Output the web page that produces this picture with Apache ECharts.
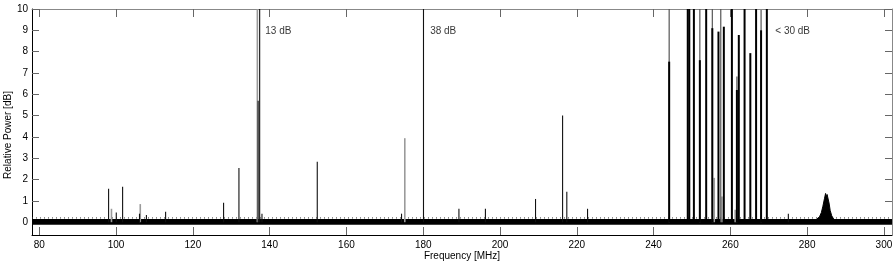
<!DOCTYPE html>
<html><head><meta charset="utf-8">
<script src="https://cdn.jsdelivr.net/npm/echarts@6/dist/echarts.min.js"></script>
<style>html,body{margin:0;padding:0;background:#fff}#c{width:896px;height:263px}</style>
</head><body><div id="c"></div>
<script>
// ---- data ----
const xTicks = [80,100,120,140,160,180,200,220,240,260,280,300];
const yTicks = [0,1,2,3,4,5,6,7,8,9,10];
const X_MIN = 78.1, X_MAX = 302.1, Y_MIN = -0.6, Y_MAX = 10;

// thin black spikes (MHz, dB)
const blackFreq = [98.05,100.05,101.7,106.1,107.9,112.9,128.0,132.0,137.0,137.4,138.0,152.4,174.35,180.07,189.3,196.2,209.25,216.3,217.4,222.8,275.1];
const blackVal  = [1.57,0.46,1.66,0.40,0.34,0.49,0.91,2.54,5.7,13,0.40,2.83,0.40,38,0.63,0.63,1.09,5.0,1.43,0.63,0.40];

// lighter grey spikes
const greyFreq = [98.8,106.3,136.8,175.2,255.8,257.8,261.25];
const greyVal  = [0.63,0.85,13,3.94,2.08,1.2,0.58];

// upper parts of the strong cluster (dark grey, < 30 dB)
const clusterUpperFreq = [244.06,252.05,255.3,257.5,261.7,268.0];
const clusterUpperVal  = [30,30,30,30,6.83,9.95];

// strong cluster, heavy black lines
const clusterFreq = [244.06,248.9,249.3,250.5,252.05,253.7,255.3,256.9,258.3,260.4,261.7,262.2,263.7,265.2,266.7,268.0,269.5];
const clusterVal  = [7.53,30,30,30,7.6,30,9.1,8.94,9.17,30,6.2,8.78,30,7.93,30,9.0,30];

// broad hump near 285 MHz
const humpFreq = [282.5,283.2,283.7,284.1,284.5,284.8,285.0,285.2,285.4,285.7,286.0,286.4,286.9];
const humpVal  = [0.15,0.25,0.45,0.75,1.1,1.35,1.2,1.3,1.25,0.9,0.55,0.3,0.15];

// noise floor band (dB)
const noiseBand = [-0.12, 0.15];
const noiseSpeckle = [0.2];

// annotations
const annotFreq = [138.85, 181.8, 271.7];
const annotVal  = [8.97, 8.97, 8.97];
const annotText = ['13 dB', '38 dB', '< 30 dB'];

// ---- chart ----
const FONT = 'Liberation Sans';
const chart = echarts.init(document.getElementById('c'), null, {renderer: 'canvas'});

function spikeSeries(freqs, vals, color, width, z) {
  return {
    type: 'custom', xAxisIndex: 0, yAxisIndex: 0, z: z, silent: true, animation: false,
    data: freqs.map((f, i) => [f, vals[i]]),
    renderItem: function (params, api) {
      const f = api.value(0);
      const v = Math.min(api.value(1), Y_MAX);
      const p0 = api.coord([f, 0]);
      const p1 = api.coord([f, v]);
      return {type: 'line', shape: {x1: p0[0], y1: p0[1], x2: p1[0], y2: p1[1]},
        style: {stroke: color, lineWidth: width}};
    }
  };
}

function xAx(pos, show) {
  return {
    type: 'value', position: pos, min: X_MIN, max: X_MAX,
    axisLine: {show: true, onZero: false, lineStyle: {color: pos === 'bottom' ? '#000' : '#888', width: 1}},
    axisTick: {show: true, inside: true, length: 8, customValues: xTicks, lineStyle: {color: '#666'}},
    axisLabel: {show: show, customValues: xTicks, color: '#000', fontSize: 10, fontFamily: FONT, margin: 5},
    splitLine: {show: false},
    name: show ? 'Frequency [MHz]' : '', nameLocation: 'middle', nameGap: 16, nameMoveOverlap: false,
    nameTextStyle: {color: '#000', fontSize: 10, fontFamily: FONT}
  };
}
function yAx(pos, show) {
  return {
    type: 'value', position: pos, min: Y_MIN, max: Y_MAX,
    axisLine: {show: true, onZero: false, lineStyle: {color: pos === 'left' ? '#000' : '#888', width: 1}},
    axisTick: {show: true, inside: true, length: 7, customValues: yTicks, lineStyle: {color: '#666'}},
    axisLabel: {show: show, customValues: yTicks, color: '#000', fontSize: 10, fontFamily: FONT, margin: 4},
    splitLine: {show: false},
    name: show ? 'Relative Power [dB]' : '', nameLocation: 'middle', nameGap: 19, nameMoveOverlap: false,
    nameTextStyle: {color: '#000', fontSize: 10, fontFamily: FONT, padding: [0, 26, 0, 0]}
  };
}

chart.setOption({
  backgroundColor: '#fff',
  animation: false,
  grid: {left: 32, right: 4, top: 9, bottom: 28, containLabel: false, outerBoundsMode: 'none'},
  xAxis: [xAx('bottom', true), xAx('top', false)],
  yAxis: [yAx('left', true), yAx('right', false)],
  series: [
    {
      type: 'line', xAxisIndex: 0, yAxisIndex: 0, z: 1, silent: true,
      data: [[X_MIN, noiseSpeckle[0]], [X_MAX, noiseSpeckle[0]]],
      symbol: 'none', lineStyle: {color: '#333', width: 1, type: [1, 3]},
      markArea: {silent: true, itemStyle: {color: '#000', opacity: 1},
        data: [[{coord: [X_MIN, noiseBand[0]]}, {coord: [X_MAX, noiseBand[1]]}]]}
    },
    {
      type: 'line', xAxisIndex: 0, yAxisIndex: 0, z: 3, silent: true, symbol: 'none',
      data: humpFreq.map((f, i) => [f, humpVal[i]]),
      lineStyle: {color: '#000', width: 1}, areaStyle: {color: '#000', opacity: 1, origin: 0}
    },
    spikeSeries(greyFreq, greyVal, '#9a9a9a', 1.6, 2),
    spikeSeries(clusterUpperFreq, clusterUpperVal, '#555', 1.2, 2),
    spikeSeries(blackFreq, blackVal, '#111', 1.1, 4),
    spikeSeries(clusterFreq, clusterVal, '#000', 2, 5),
    {
      type: 'scatter', xAxisIndex: 0, yAxisIndex: 0, z: 6, silent: true,
      symbolSize: 0,
      data: annotFreq.map((f, i) => [f, annotVal[i], annotText[i]]),
      label: {show: true, position: 'right', distance: 0, formatter: p => p.data[2],
        color: '#000', fontSize: 10, fontFamily: FONT}
    }
  ]
});
</script>
</body></html>
